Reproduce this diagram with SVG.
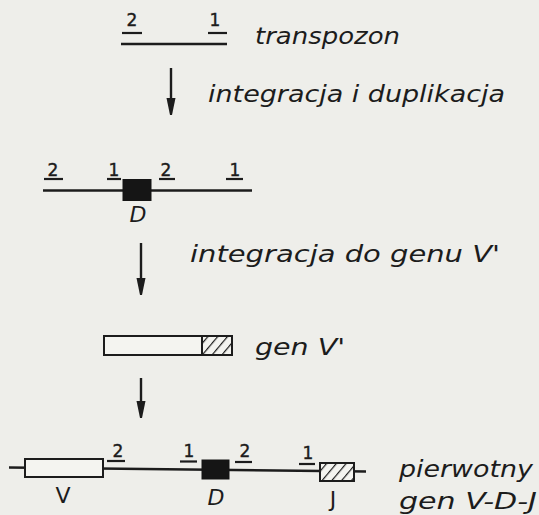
<svg xmlns="http://www.w3.org/2000/svg" width="539" height="515" viewBox="0 0 539 515">
<defs>
<style>
.bg{fill:#eeeeea}
.ln{stroke:#1c1c1c;stroke-width:2.6;fill:none;stroke-linecap:butt}
.ul{stroke:#1c1c1c;stroke-width:2.2;fill:none}
.box{stroke:#1c1c1c;stroke-width:2;fill:#f4f4f0}
.blk{fill:#151515;stroke:#151515;stroke-width:1}
.hat{stroke:#1c1c1c;stroke-width:2;fill:url(#hatch)}
.lbl{font-family:"DejaVu Sans","Liberation Sans",sans-serif;font-style:oblique;fill:#1c1c1c;font-size:23px}
.num{font-family:"DejaVu Sans","Liberation Sans",sans-serif;fill:#1c1c1c;font-size:17px;text-anchor:middle;stroke:#1c1c1c;stroke-width:0.4}
.big{font-family:"DejaVu Sans","Liberation Sans",sans-serif;fill:#1c1c1c;font-size:22px;text-anchor:middle}
.arr{stroke:#1c1c1c;stroke-width:2.4;fill:none}
.head{fill:#1c1c1c}
</style>
<pattern id="hatch" patternUnits="userSpaceOnUse" width="7.5" height="7.5" patternTransform="rotate(40)">
<rect width="7.5" height="7.5" fill="#f4f4f0"/>
<line x1="0" y1="0" x2="0" y2="7.5" stroke="#1c1c1c" stroke-width="2.4"/>
</pattern>
</defs>
<rect class="bg" x="0" y="0" width="539" height="515"/>

<g id="transpozon">
<line class="ln" x1="121" y1="44" x2="227" y2="44"/>
<line class="ul" x1="122" y1="33" x2="142" y2="33"/>
<line class="ul" x1="208" y1="33" x2="227" y2="33"/>
<text class="num" x="132" y="26">2</text>
<text class="num" x="215" y="26">1</text>
<text class="lbl" x="255" y="44" textLength="145" lengthAdjust="spacingAndGlyphs">transpozon</text>
</g>

<g id="connectors">
<line class="arr" x1="171" y1="68" x2="171" y2="100"/>
<path class="head" d="M166.5,98 L175.5,98 L172,115 L170,115 Z"/>
<line class="arr" x1="141" y1="243" x2="141" y2="280"/>
<path class="head" d="M136.5,278 L145.5,278 L142,295 L140,295 Z"/>
<line class="arr" x1="141" y1="378" x2="141" y2="403"/>
<path class="head" d="M136.5,401 L145.5,401 L142,418 L140,418 Z"/>
</g>

<g id="label-integracja-duplikacja">
<text class="lbl" x="208" y="102" textLength="297" lengthAdjust="spacingAndGlyphs">integracja i duplikacja</text>
</g>

<g id="row-D">
<line class="ln" x1="43" y1="190.5" x2="252" y2="190.5"/>
<rect class="blk" x="123" y="179.5" width="28" height="21"/>
<line class="ul" x1="44" y1="179" x2="63" y2="179"/>
<line class="ul" x1="107" y1="179" x2="121" y2="179"/>
<line class="ul" x1="159" y1="179" x2="175" y2="179"/>
<line class="ul" x1="226" y1="179" x2="243" y2="179"/>
<text class="num" x="53" y="176">2</text>
<text class="num" x="114" y="176">1</text>
<text class="num" x="166" y="176">2</text>
<text class="num" x="235" y="176">1</text>
<text class="big" x="138" y="222" font-style="oblique">D</text>
</g>

<g id="label-integracja-V">
<text class="lbl" x="190" y="262" textLength="310" lengthAdjust="spacingAndGlyphs">integracja do genu V'</text>
</g>

<g id="gen-V-prime">
<rect class="box" x="104" y="336" width="98" height="19"/>
<rect class="hat" x="202" y="336" width="30" height="19"/>
<text class="lbl" x="255" y="355" textLength="90" lengthAdjust="spacingAndGlyphs">gen V'</text>
</g>

<g id="gen-VDJ">
<line class="ln" x1="9" y1="467.5" x2="366" y2="471.5"/>
<rect class="box" x="25" y="459" width="78" height="18"/>
<rect class="blk" x="202" y="460" width="27" height="19"/>
<rect class="hat" x="320" y="463" width="34" height="18"/>
<line class="ul" x1="107" y1="461" x2="125" y2="461"/>
<line class="ul" x1="180" y1="461.5" x2="197" y2="461.5"/>
<line class="ul" x1="235" y1="462" x2="252" y2="462"/>
<line class="ul" x1="299" y1="464" x2="315" y2="464"/>
<text class="num" x="118" y="457">2</text>
<text class="num" x="189" y="457">1</text>
<text class="num" x="245" y="457">2</text>
<text class="num" x="308" y="459">1</text>
<text class="big" x="63" y="503">V</text>
<text class="big" x="216" y="505" font-style="oblique">D</text>
<text class="big" x="333" y="507">J</text>
<text class="lbl" x="399" y="477" textLength="134" lengthAdjust="spacingAndGlyphs">pierwotny</text>
<text class="lbl" x="399" y="509" textLength="138" lengthAdjust="spacingAndGlyphs">gen V-D-J</text>
</g>
</svg>
